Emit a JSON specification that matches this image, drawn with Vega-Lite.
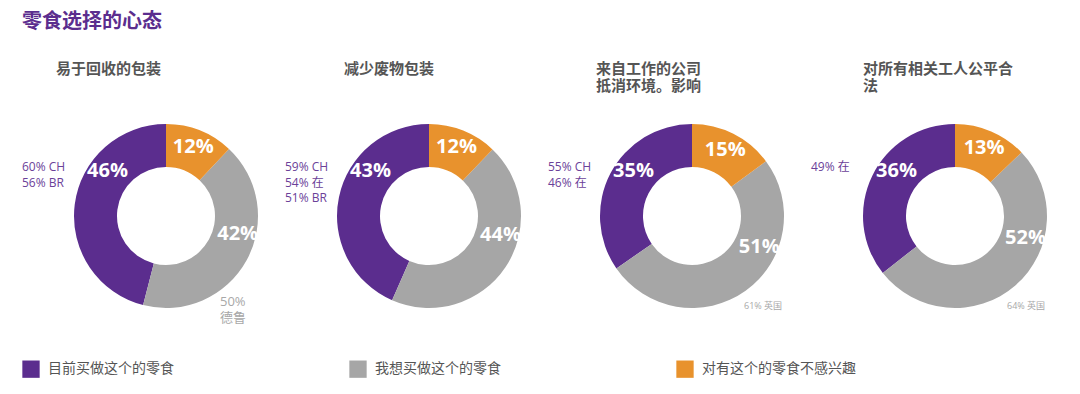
{
  "$schema": "https://vega.github.io/schema/vega-lite/v6.json",
  "background": "white",
  "padding": {"left": 22, "top": 12, "right": 0, "bottom": 8},
  "bounds": "flush",
  "title": {"text": "零食选择的心态", "anchor": "start", "fontSize": 20, "font": "Noto Sans CJK SC", "fontWeight": "bold", "color": "#5b2d8e", "dx": 0, "offset": 30},
  "datasets": {
    "shares": [
      {"panel": 1, "cat": "目前买做这个的零食", "value": 46},
      {"panel": 1, "cat": "我想买做这个的零食", "value": 42},
      {"panel": 1, "cat": "对有这个的零食不感兴趣", "value": 12},
      {"panel": 2, "cat": "目前买做这个的零食", "value": 43},
      {"panel": 2, "cat": "我想买做这个的零食", "value": 44},
      {"panel": 2, "cat": "对有这个的零食不感兴趣", "value": 12},
      {"panel": 3, "cat": "目前买做这个的零食", "value": 35},
      {"panel": 3, "cat": "我想买做这个的零食", "value": 51},
      {"panel": 3, "cat": "对有这个的零食不感兴趣", "value": 15},
      {"panel": 4, "cat": "目前买做这个的零食", "value": 36},
      {"panel": 4, "cat": "我想买做这个的零食", "value": 52},
      {"panel": 4, "cat": "对有这个的零食不感兴趣", "value": 13}
    ],
    "notes": [
      {"panel": 1, "kind": "buy", "text": "60% CH\n56% BR"},
      {"panel": 1, "kind": "want", "text": "50%\n德鲁"},
      {"panel": 2, "kind": "buy", "text": "59% CH\n54% 在\n51% BR"},
      {"panel": 3, "kind": "buy", "text": "55% CH\n46% 在"},
      {"panel": 3, "kind": "want", "text": "61% 英国"},
      {"panel": 4, "kind": "buy", "text": "49% 在"},
      {"panel": 4, "kind": "want", "text": "64% 英国"}
    ]
  },
  "spacing": 23,
  "hconcat": [
    {
      "width": 240, "height": 228,
      "title": {"text": ["易于回收的包装", ""], "anchor": "start", "dx": 34, "fontSize": 15, "fontWeight": "bold", "font": "Noto Sans CJK SC", "color": "#555555", "lineHeight": 17, "offset": 8},
      "layer": [
        {
          "data": {"name": "shares"},
          "transform": [
            {"filter": "datum.panel == 1"},
            {"calculate": "indexof(['对有这个的零食不感兴趣','我想买做这个的零食','目前买做这个的零食'], datum.cat)", "as": "k"},
            {"stack": "value", "groupby": ["panel"], "sort": [{"field": "k"}], "offset": "normalize", "as": ["t0", "t1"]}
          ],
          "mark": {"type": "arc", "outerRadius": 92, "innerRadius": 49},
          "encoding": {
            "theta": {"field": "t0", "type": "quantitative", "scale": {"domain": [0, 1]}},
            "theta2": {"field": "t1"},
            "color": {"field": "cat", "type": "nominal", "scale": {"domain": ["目前买做这个的零食", "我想买做这个的零食", "对有这个的零食不感兴趣"], "range": ["#5b2d8e", "#a6a6a6", "#e8922d"]}, "legend": {"orient": "none", "legendX": -24, "legendY": 258, "direction": "horizontal", "title": null, "symbolType": "square", "symbolSize": 300, "symbolStrokeWidth": 0, "symbolOpacity": 1, "labelFontSize": 14, "labelFont": "Noto Sans CJK SC", "labelColor": "#555555", "labelLimit": 300, "labelOffset": 8, "columnPadding": 175}}
          }
        },
        {
          "data": {"name": "shares"},
          "transform": [
            {"filter": "datum.panel == 1"},
            {"calculate": "indexof(['对有这个的零食不感兴趣','我想买做这个的零食','目前买做这个的零食'], datum.cat)", "as": "k"},
            {"stack": "value", "groupby": ["panel"], "sort": [{"field": "k"}], "offset": "normalize", "as": ["t0", "t1"]},
            {"calculate": "datum.k == 0 ? (datum.t0 + datum.t1) / 2 : datum.k == 1 ? datum.t0 + 0.17 : datum.t1 - 0.145", "as": "lt"},
            {"calculate": "datum.value + '%'", "as": "label"}
          ],
          "mark": {"type": "text", "radius": 74, "fontSize": 20, "fontWeight": "bold", "font": "Open Sans", "color": "white"},
          "encoding": {
            "theta": {"field": "lt", "type": "quantitative", "scale": {"domain": [0, 1]}},
            "text": {"field": "label"}
          }
        },
        {
          "data": {"name": "notes"},
          "transform": [{"filter": "datum.panel == 1 && datum.kind == 'buy'"}],
          "mark": {"type": "text", "align": "left", "baseline": "top", "dx": -144, "dy": -54, "fontSize": 12, "font": "Open Sans, Noto Sans CJK SC", "color": "#6b4199", "lineBreak": "\n", "lineHeight": 15.5},
          "encoding": {"text": {"field": "text"}}
        },
        {
          "data": {"name": "notes"},
          "transform": [{"filter": "datum.panel == 1 && datum.kind == 'want'"}],
          "mark": {"type": "text", "align": "left", "baseline": "top", "dx": 54, "dy": 80, "fontSize": 13, "font": "Open Sans, Noto Sans CJK SC", "color": "#a8a8a8", "lineBreak": "\n", "lineHeight": 16},
          "encoding": {"text": {"field": "text"}}
        }
      ]
    },
    {
      "width": 240, "height": 228,
      "title": {"text": ["减少废物包装", ""], "anchor": "start", "dx": 59, "fontSize": 15, "fontWeight": "bold", "font": "Noto Sans CJK SC", "color": "#555555", "lineHeight": 17, "offset": 8},
      "layer": [
        {
          "data": {"name": "shares"},
          "transform": [
            {"filter": "datum.panel == 2"},
            {"calculate": "indexof(['对有这个的零食不感兴趣','我想买做这个的零食','目前买做这个的零食'], datum.cat)", "as": "k"},
            {"stack": "value", "groupby": ["panel"], "sort": [{"field": "k"}], "offset": "normalize", "as": ["t0", "t1"]}
          ],
          "mark": {"type": "arc", "outerRadius": 92, "innerRadius": 49},
          "encoding": {
            "theta": {"field": "t0", "type": "quantitative", "scale": {"domain": [0, 1]}},
            "theta2": {"field": "t1"},
            "color": {"field": "cat", "type": "nominal", "scale": {"domain": ["目前买做这个的零食", "我想买做这个的零食", "对有这个的零食不感兴趣"], "range": ["#5b2d8e", "#a6a6a6", "#e8922d"]}, "legend": null}
          }
        },
        {
          "data": {"name": "shares"},
          "transform": [
            {"filter": "datum.panel == 2"},
            {"calculate": "indexof(['对有这个的零食不感兴趣','我想买做这个的零食','目前买做这个的零食'], datum.cat)", "as": "k"},
            {"stack": "value", "groupby": ["panel"], "sort": [{"field": "k"}], "offset": "normalize", "as": ["t0", "t1"]},
            {"calculate": "datum.k == 0 ? (datum.t0 + datum.t1) / 2 : datum.k == 1 ? datum.t0 + 0.17 : datum.t1 - 0.145", "as": "lt"},
            {"calculate": "datum.value + '%'", "as": "label"}
          ],
          "mark": {"type": "text", "radius": 74, "fontSize": 20, "fontWeight": "bold", "font": "Open Sans", "color": "white"},
          "encoding": {
            "theta": {"field": "lt", "type": "quantitative", "scale": {"domain": [0, 1]}},
            "text": {"field": "label"}
          }
        },
        {
          "data": {"name": "notes"},
          "transform": [{"filter": "datum.panel == 2 && datum.kind == 'buy'"}],
          "mark": {"type": "text", "align": "left", "baseline": "top", "dx": -144, "dy": -54, "fontSize": 12, "font": "Open Sans, Noto Sans CJK SC", "color": "#6b4199", "lineBreak": "\n", "lineHeight": 15.5},
          "encoding": {"text": {"field": "text"}}
        }
      ]
    },
    {
      "width": 240, "height": 228,
      "title": {"text": ["来自工作的公司", "抵消环境。影响"], "anchor": "start", "dx": 48, "fontSize": 15, "fontWeight": "bold", "font": "Noto Sans CJK SC", "color": "#555555", "lineHeight": 17, "offset": 8},
      "layer": [
        {
          "data": {"name": "shares"},
          "transform": [
            {"filter": "datum.panel == 3"},
            {"calculate": "indexof(['对有这个的零食不感兴趣','我想买做这个的零食','目前买做这个的零食'], datum.cat)", "as": "k"},
            {"stack": "value", "groupby": ["panel"], "sort": [{"field": "k"}], "offset": "normalize", "as": ["t0", "t1"]}
          ],
          "mark": {"type": "arc", "outerRadius": 92, "innerRadius": 49},
          "encoding": {
            "theta": {"field": "t0", "type": "quantitative", "scale": {"domain": [0, 1]}},
            "theta2": {"field": "t1"},
            "color": {"field": "cat", "type": "nominal", "scale": {"domain": ["目前买做这个的零食", "我想买做这个的零食", "对有这个的零食不感兴趣"], "range": ["#5b2d8e", "#a6a6a6", "#e8922d"]}, "legend": null}
          }
        },
        {
          "data": {"name": "shares"},
          "transform": [
            {"filter": "datum.panel == 3"},
            {"calculate": "indexof(['对有这个的零食不感兴趣','我想买做这个的零食','目前买做这个的零食'], datum.cat)", "as": "k"},
            {"stack": "value", "groupby": ["panel"], "sort": [{"field": "k"}], "offset": "normalize", "as": ["t0", "t1"]},
            {"calculate": "datum.k == 0 ? (datum.t0 + datum.t1) / 2 : datum.k == 1 ? datum.t0 + 0.17 : datum.t1 - 0.145", "as": "lt"},
            {"calculate": "datum.value + '%'", "as": "label"}
          ],
          "mark": {"type": "text", "radius": 74, "fontSize": 20, "fontWeight": "bold", "font": "Open Sans", "color": "white"},
          "encoding": {
            "theta": {"field": "lt", "type": "quantitative", "scale": {"domain": [0, 1]}},
            "text": {"field": "label"}
          }
        },
        {
          "data": {"name": "notes"},
          "transform": [{"filter": "datum.panel == 3 && datum.kind == 'buy'"}],
          "mark": {"type": "text", "align": "left", "baseline": "top", "dx": -144, "dy": -54, "fontSize": 12, "font": "Open Sans, Noto Sans CJK SC", "color": "#6b4199", "lineBreak": "\n", "lineHeight": 15.5},
          "encoding": {"text": {"field": "text"}}
        },
        {
          "data": {"name": "notes"},
          "transform": [{"filter": "datum.panel == 3 && datum.kind == 'want'"}],
          "mark": {"type": "text", "align": "left", "baseline": "top", "dx": 52, "dy": 86, "fontSize": 9, "font": "Open Sans, Noto Sans CJK SC", "color": "#a8a8a8"},
          "encoding": {"text": {"field": "text"}}
        }
      ]
    },
    {
      "width": 240, "height": 228,
      "title": {"text": ["对所有相关工人公平合", "法"], "anchor": "start", "dx": 52, "fontSize": 15, "fontWeight": "bold", "font": "Noto Sans CJK SC", "color": "#555555", "lineHeight": 17, "offset": 8},
      "layer": [
        {
          "data": {"name": "shares"},
          "transform": [
            {"filter": "datum.panel == 4"},
            {"calculate": "indexof(['对有这个的零食不感兴趣','我想买做这个的零食','目前买做这个的零食'], datum.cat)", "as": "k"},
            {"stack": "value", "groupby": ["panel"], "sort": [{"field": "k"}], "offset": "normalize", "as": ["t0", "t1"]}
          ],
          "mark": {"type": "arc", "outerRadius": 92, "innerRadius": 49},
          "encoding": {
            "theta": {"field": "t0", "type": "quantitative", "scale": {"domain": [0, 1]}},
            "theta2": {"field": "t1"},
            "color": {"field": "cat", "type": "nominal", "scale": {"domain": ["目前买做这个的零食", "我想买做这个的零食", "对有这个的零食不感兴趣"], "range": ["#5b2d8e", "#a6a6a6", "#e8922d"]}, "legend": null}
          }
        },
        {
          "data": {"name": "shares"},
          "transform": [
            {"filter": "datum.panel == 4"},
            {"calculate": "indexof(['对有这个的零食不感兴趣','我想买做这个的零食','目前买做这个的零食'], datum.cat)", "as": "k"},
            {"stack": "value", "groupby": ["panel"], "sort": [{"field": "k"}], "offset": "normalize", "as": ["t0", "t1"]},
            {"calculate": "datum.k == 0 ? (datum.t0 + datum.t1) / 2 : datum.k == 1 ? datum.t0 + 0.17 : datum.t1 - 0.145", "as": "lt"},
            {"calculate": "datum.value + '%'", "as": "label"}
          ],
          "mark": {"type": "text", "radius": 74, "fontSize": 20, "fontWeight": "bold", "font": "Open Sans", "color": "white"},
          "encoding": {
            "theta": {"field": "lt", "type": "quantitative", "scale": {"domain": [0, 1]}},
            "text": {"field": "label"}
          }
        },
        {
          "data": {"name": "notes"},
          "transform": [{"filter": "datum.panel == 4 && datum.kind == 'buy'"}],
          "mark": {"type": "text", "align": "left", "baseline": "top", "dx": -144, "dy": -54, "fontSize": 12, "font": "Open Sans, Noto Sans CJK SC", "color": "#6b4199", "lineBreak": "\n", "lineHeight": 15.5},
          "encoding": {"text": {"field": "text"}}
        },
        {
          "data": {"name": "notes"},
          "transform": [{"filter": "datum.panel == 4 && datum.kind == 'want'"}],
          "mark": {"type": "text", "align": "left", "baseline": "top", "dx": 52, "dy": 86, "fontSize": 9, "font": "Open Sans, Noto Sans CJK SC", "color": "#a8a8a8"},
          "encoding": {"text": {"field": "text"}}
        }
      ]
    }
  ],
  "config": {"view": {"stroke": null}}
}
